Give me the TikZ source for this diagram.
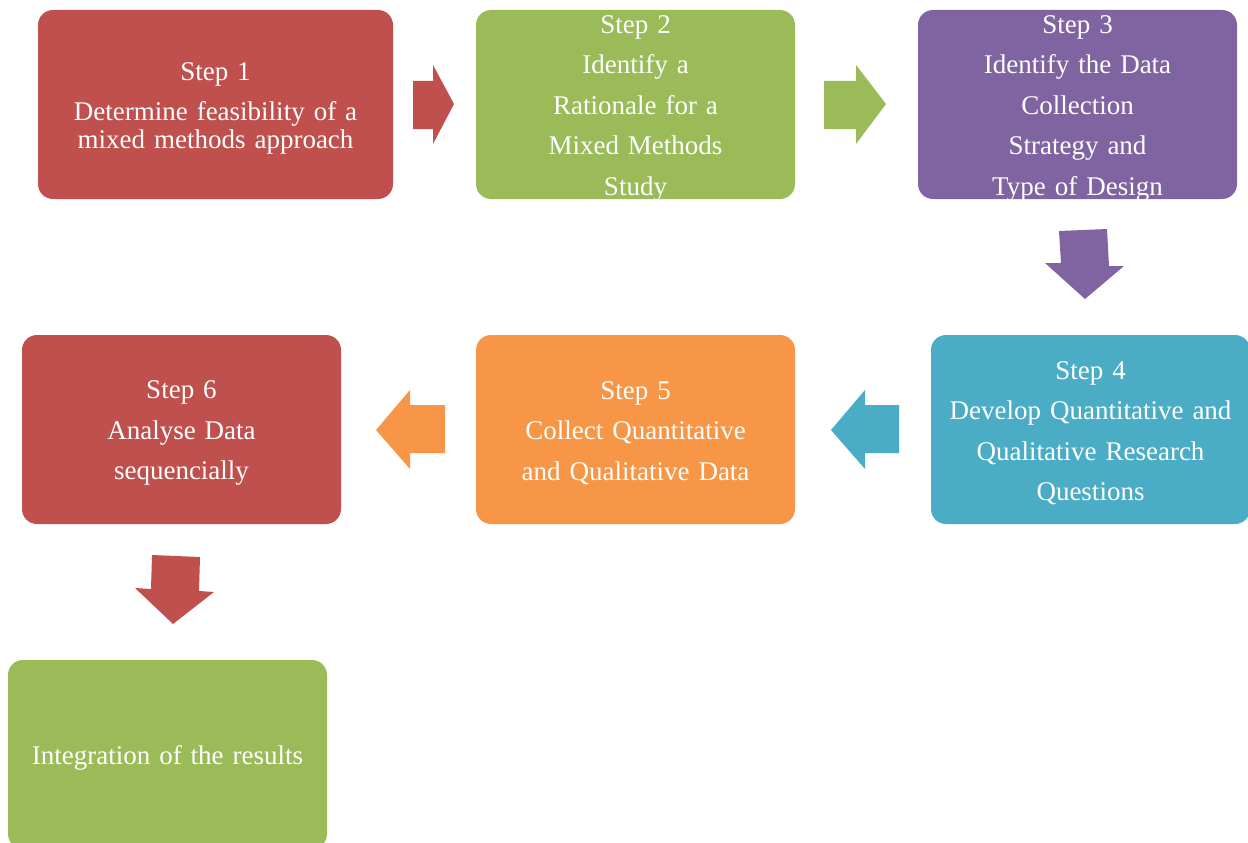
\documentclass[tikz,border=0pt]{standalone}
\usepackage{fontspec}
\setmainfont{Liberation Serif}
\definecolor{cred}{HTML}{C0504D}
\definecolor{cgreen}{HTML}{9BBB59}
\definecolor{cpurple}{HTML}{8064A2}
\definecolor{cteal}{HTML}{4BACC6}
\definecolor{corange}{HTML}{F79646}
\begin{document}
\begin{tikzpicture}[x=1pt,y=-1pt,
  box/.style={rounded corners=15pt, inner sep=0pt, minimum height=189pt},
  txt/.style={inner sep=0pt, text=white, align=center, text width=340pt,
    font=\fontsize{27}{40.5}\selectfont}]
\useasboundingbox (0,0) rectangle (1248,843);
\fill[white] (0,0) rectangle (1248,843);

\node[box, fill=cred, minimum width=355pt] (s1) at (215.5,104.5) {};
\node[box, fill=cgreen, minimum width=319pt] (s2) at (635.5,104.5) {};
\node[box, fill=cpurple, minimum width=319pt] (s3) at (1077.5,104.5) {};
\node[box, fill=cteal, minimum width=319pt] (s4) at (1090.5,429.5) {};
\node[box, fill=corange, minimum width=319pt] (s5) at (635.5,429.5) {};
\node[box, fill=cred, minimum width=319pt] (s6) at (181.5,429.5) {};
\node[box, fill=cgreen, minimum width=319pt] (s7) at (167.5,754.5) {};

\node[txt, font=\fontsize{27}{28}\selectfont] (t1) at ([yshift=-3.5pt]s1.center)
  {Step 1\\[12pt]Determine feasibility of a\\mixed methods approach};
\node[txt] (t2) at ([yshift=-3.5pt]s2.center)
  {Step 2\\Identify a\\Rationale for a\\Mixed Methods\\Study};
\node[txt] (t3) at ([yshift=-3.5pt]s3.center)
  {Step 3\\Identify the Data\\Collection\\Strategy and\\Type of Design};
\node[txt] (t4) at ([yshift=-3.5pt]s4.center)
  {Step 4\\Develop Quantitative and\\Qualitative Research\\Questions};
\node[txt] (t5) at ([yshift=-3.5pt]s5.center)
  {Step 5\\Collect Quantitative\\and Qualitative Data};
\node[txt] (t6) at ([yshift=-3.5pt]s6.center)
  {Step 6\\Analyse Data\\sequencially};
\node[txt] (t7) at ([yshift=-3.5pt]s7.center)
  {Integration of the results};

% block arrows
\fill[cred] (413,81) -- (433,81) -- (433,65) -- (454,104) -- (433,144) -- (433,129) -- (413,129) -- cycle;
\fill[cgreen] (824,81) -- (856,81) -- (856,65) -- (886,104) -- (856,144) -- (856,129) -- (824,129) -- cycle;
\fill[cpurple] (1059,231) -- (1107,229) -- (1109,266) -- (1124,266) -- (1085,299) -- (1045,263) -- (1061,263) -- cycle;
\fill[cteal] (899,405) -- (865,405) -- (865,390) -- (831,430) -- (865,469) -- (865,453) -- (899,453) -- cycle;
\fill[corange] (445,405) -- (410,405) -- (410,390) -- (376,430) -- (410,469) -- (410,453) -- (445,453) -- cycle;
\fill[cred] (152,555) -- (200,557) -- (199,591) -- (214,592) -- (173,624) -- (135,588) -- (151,589) -- cycle;
\end{tikzpicture}
\end{document}
